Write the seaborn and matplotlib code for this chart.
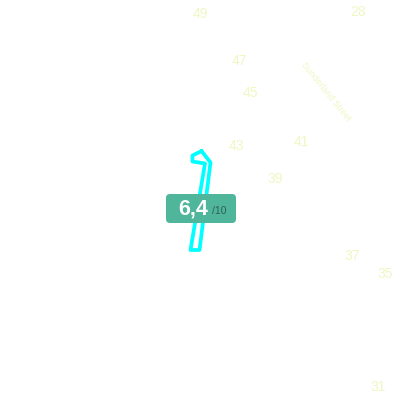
import matplotlib
matplotlib.use("Agg")
import matplotlib.pyplot as plt
from matplotlib.patches import FancyBboxPatch
import pandas as pd
import seaborn as sns

# cyan outline, in picture pixels
outline_x = [201.5, 210.5, 199.5, 190.5, 205, 192.5, 192.5, 201.5]
outline_y = [151, 162.5, 250, 250, 163.5, 161.5, 155.5, 151]

# pale numbers on the map
label_text = ["49", "28", "47", "45", "43", "41", "39", "37", "35", "31"]
label_x = [200, 358, 239, 250, 236, 301, 275, 352, 385, 378]
label_y = [14, 12, 61, 93, 146, 142, 179, 256, 274, 387]

road_name = "Sunderland Street"
score = "6,4"
score_max = "/10"

sns.set_style("white")
plt.rcParams['font.family'] = ['Liberation Sans', 'DejaVu Sans']

fig = plt.figure(figsize=(4, 4), dpi=100)
ax = fig.add_axes([0, 0, 1, 1])

df = pd.DataFrame({'x': outline_x, 'y': outline_y})
sns.lineplot(data=df, x='x', y='y', sort=False, estimator=None, color='#00FFFF', linewidth=2.7, ax=ax)

for t, x, y in zip(label_text, label_x, label_y):
    ax.text(x, y, t, color='#EEF8C4', fontsize=10, ha='center', va='center')

ax.text(326, 92, road_name, color='#EEF8C4', fontsize=6.5, rotation=-51, ha='center', va='center')

# score badge
badge = FancyBboxPatch((170, 198), 62, 21, boxstyle='round,pad=4', facecolor='#4FB59B', edgecolor='none', zorder=3)
ax.add_patch(badge)
ax.text(193, 209.5, score, color='white', fontsize=15.5, fontweight='bold', ha='center', va='center', zorder=4)
ax.text(212, 211.5, score_max, color='#2F5F55', fontsize=7.5, ha='left', va='center', zorder=4)

ax.set_xlim(0, 400)
ax.set_ylim(400, 0)
ax.axis('off')

fig.savefig('out.png', dpi=100)
